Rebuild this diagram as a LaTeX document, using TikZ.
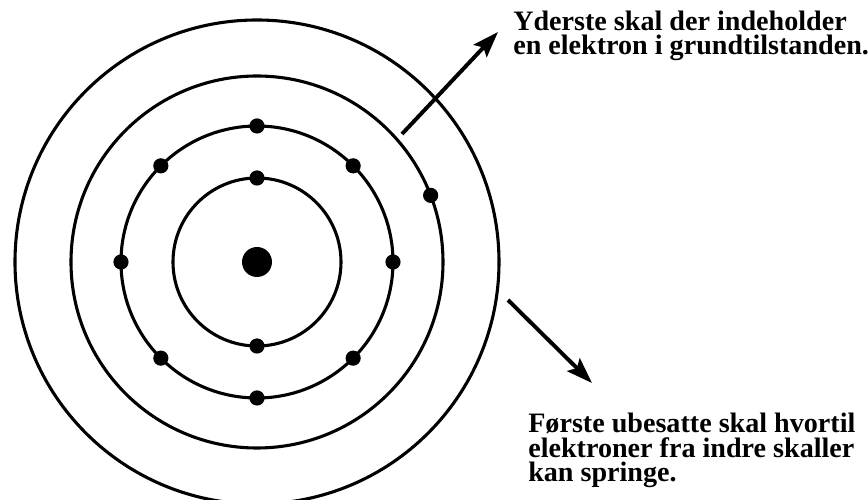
\documentclass[tikz,border=0pt]{standalone}
\usepackage{fontspec}
\setmainfont{Liberation Serif}
\usetikzlibrary{arrows.meta, positioning}

\begin{document}
\begin{tikzpicture}[
    skal/.style={draw=black, line width=2.2pt},
    elektron/.style={
        circle, fill=black,
        inner sep=0pt, minimum size=0.38cm
    },
    kerne/.style={
        circle, fill=black,
        inner sep=0pt, minimum size=0.75cm
    },
    pil/.style={-{Stealth[length=0.65cm, width=0.45cm, inset=0.12cm]}, line width=2.8pt},
    tekst/.style={
        font=\fontsize{20}{17.6}\selectfont\bfseries,
        align=left, inner sep=0pt, anchor=base west
    },
]
\useasboundingbox (-6.425,-5.95) rectangle (15.275,6.55);

% Skaller
\draw[skal] (0,0) circle (2.1);
\draw[skal] (0,0) circle (3.4);
\draw[skal] (0,0) circle (4.65);
\draw[skal] (0,0) circle (6.05);

% Kerne
\node[kerne] (kerne) at (0,0) {};

% Elektroner
\foreach \a in {90,270}
    \node[elektron] (s1-\a) at (\a:2.1) {};
\foreach \a in {0,45,...,315}
    \node[elektron] (s2-\a) at (\a:3.4) {};
\node[elektron] (s3) at (21:4.65) {};

% Forklaringer
\node[tekst] (yderst) at (6.4,5.175)
    {Yderste skal der indeholder\\en elektron i grundtilstanden.};
\node[tekst] (ubesat) at (6.775,-5.5)
    {Første ubesatte skal hvortil\\elektroner fra indre skaller\\kan springe.};

% Pile
\coordinate (p1start) at (3.625,3.2);
\coordinate (p1slut)  at (6.025,5.75);
\coordinate (p2start) at (6.275,-0.95);
\coordinate (p2slut)  at (8.375,-3.025);
\draw[pil] (p1start) -- (p1slut);
\draw[pil] (p2start) -- (p2slut);

\end{tikzpicture}
\end{document}
